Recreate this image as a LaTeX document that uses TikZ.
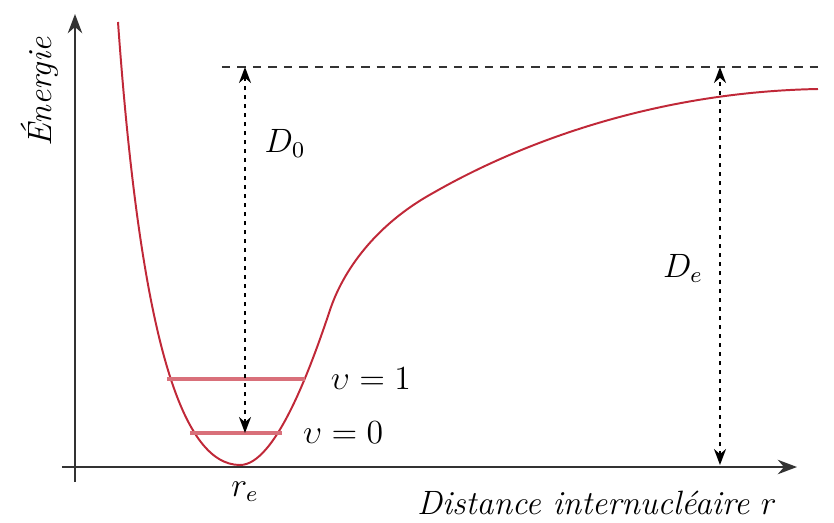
\documentclass[tikz,border=0pt]{standalone}
\usepackage{xcolor}
\definecolor{courbe}{HTML}{C02838}
\definecolor{niveau}{HTML}{D9707A}
\definecolor{axe}{HTML}{333333}
\usepackage{tikz}
\usetikzlibrary{positioning,calc,arrows.meta}

\begin{document}
\begin{tikzpicture}[x=0.125mm,y={(0mm,-0.125mm)},font=\large,
  axe/.style={draw=axe,line width=0.8pt,-{Stealth[length=2.4mm,width=1.8mm]}},
  cote/.style={draw=black,line width=0.8pt,dash pattern=on 1.6pt off 1.6pt,{Stealth[length=2mm,width=1.5mm]}-{Stealth[length=2mm,width=1.5mm]}},
  niv/.style={draw=niveau,line width=1.3pt}]
  \useasboundingbox (0,0) rectangle (834,522);
  % axes
  \coordinate (xa) at (62,467);
  \coordinate (xb) at (797,467);
  \coordinate (ya) at (75,482);
  \coordinate (yb) at (75,14);
  \draw[axe] (xa) -- (xb);
  \draw[axe] (ya) -- (yb);
  \node[rotate=90] (en) at (40,92) {\textit{Énergie}};
  \node (dist) at (597,503) {\textit{Distance internucléaire $r$}};
  % niveau de dissociation
  \coordinate (da) at (222,67);
  \coordinate (db) at (822,67);
  \draw[axe,-,line width=0.8pt,dash pattern=on 3pt off 2.5pt] (da) -- (db);
  % potentiel
  \draw[courbe,line width=0.7pt] (118,22) .. controls (140,330) and (180,465) .. (240,465)
    .. controls (275,465) and (310,370) .. (330,310)
    .. controls (343,271) and (375,225) .. (433,193)
    .. controls (520,143) and (655,92) .. (818,89);
  % niveaux vibrationnels
  \coordinate (v1a) at (167,379);
  \coordinate (v1b) at (305,379);
  \coordinate (v0a) at (190,433);
  \coordinate (v0b) at (282,433);
  \draw[niv] (v1a) -- (v1b);
  \draw[niv] (v0a) -- (v0b);
  \node[right=2mm of v1b] (l1) {$\upsilon=1$};
  \node[right=1.4mm of v0b] (l0) {$\upsilon=0$};
  % energies de dissociation
  \coordinate (d0h) at (245,67);
  \coordinate (d0b) at (245,433);
  \coordinate (deh) at (720,67);
  \coordinate (deb) at (720,465);
  \draw[cote] (d0b) -- (d0h);
  \draw[cote] (deb) -- (deh);
  \node (dz) at (285,143) {$D_0$};
  \node (de) at (683,268) {$D_e$};
  \node (re) at (245,492) {$r_e$};
\end{tikzpicture}
\end{document}
